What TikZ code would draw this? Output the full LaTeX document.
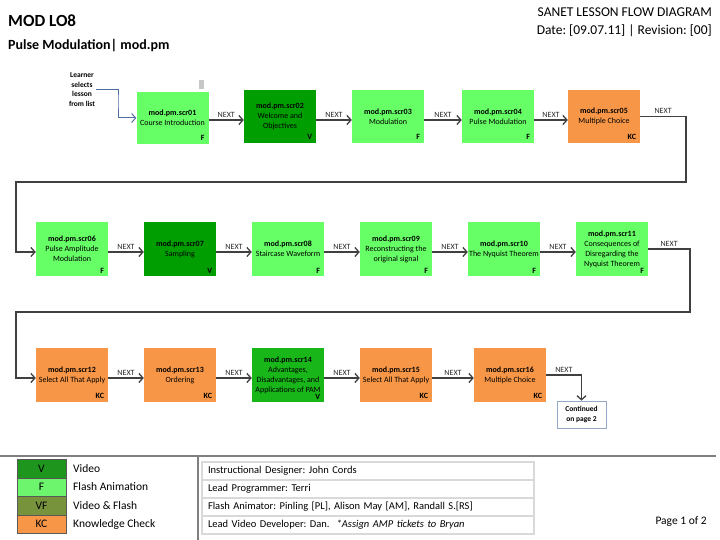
\documentclass[tikz,border=0pt]{standalone}
\usepackage{fontspec}
\setmainfont{Carlito}
\usetikzlibrary{arrows.meta,calc}
\definecolor{fgreen}{RGB}{102,255,102}
\definecolor{vgreen}{RGB}{0,158,0}
\definecolor{vgreenb}{RGB}{24,182,24}
\definecolor{kcorange}{RGB}{247,150,70}
\definecolor{vfolive}{RGB}{119,147,60}
\definecolor{conncol}{RGB}{64,64,64}
\definecolor{learncol}{RGB}{79,110,160}
\definecolor{legV}{RGB}{30,150,30}
\definecolor{legF}{RGB}{110,245,110}
\frenchspacing
\begin{document}
\begin{tikzpicture}[x=1pt,y=-1pt,
  scr/.style={minimum width=72pt, minimum height=54pt, inner sep=0pt, align=center,
    font=\fontsize{8}{10}\selectfont},
  typ/.style={label={[anchor=south east, inner sep=0pt, xshift=-4pt, yshift=3pt,
    font=\fontsize{8}{9}\selectfont\bfseries]south east:#1}},
  conn/.style={draw=conncol, line width=1.3pt, -{Straight Barb[length=4pt,width=9pt]}},
  lconn/.style={draw=learncol, line width=1pt, -{Straight Barb[length=4pt,width=9pt]}},
  nxt/.style={above, inner sep=2pt, font=\fontsize{8}{9}\selectfont, text=black!85},
  legbox/.style={draw=black!65, minimum width=49pt, minimum height=18.5pt, inner sep=0pt,
    font=\fontsize{11.5}{12}\selectfont},
  legtxt/.style={anchor=west, inner sep=0pt, font=\fontsize{11.5}{12}\selectfont},
  credit/.style={draw=black!15, line width=1.2pt, text width=320pt, inner xsep=6pt,
    minimum height=18pt, inner ysep=0pt, align=left, font=\fontsize{10.5}{12}\selectfont}
]
\useasboundingbox (0,0) rectangle (720,540);
\fill[white] (0,0) rectangle (720,540);

% header
\node[anchor=base west, inner sep=0pt, font=\fontsize{17}{20}\selectfont\bfseries] (title) at (8,27) {MOD LO8};
\node[anchor=base west, inner sep=0pt, font=\fontsize{14}{16}\selectfont\bfseries] (sub) at (8,50) {Pulse Modulation| mod.pm};
\node[anchor=base east, inner sep=0pt, font=\fontsize{13.5}{16}\selectfont] (h1) at (712,17) {SANET LESSON FLOW DIAGRAM};
\node[anchor=base east, inner sep=0pt, font=\fontsize{13.5}{16}\selectfont] (h2) at (712,35) {Date: [09.07.11] | Revision: [00]};

% learner
\node[align=center, inner sep=1pt, font=\fontsize{7.5}{9.5}\selectfont\bfseries] (learn) at (82,89.5) {Learner\\selects\\lesson\\from list};
\fill[black!22] (199,80) rectangle (204,89);

% row 1
\node[scr, minimum height=52pt, fill=fgreen, typ=F] (s01) at (172.5,118) {\textbf{mod.pm.scr01}\\Course Introduction};
\node[scr, minimum height=53pt, fill=vgreen, typ=V] (s02) at (280,116.5) {\textbf{mod.pm.scr02}\\Welcome and\\Objectives};
\node[scr, minimum height=53pt, fill=fgreen, typ=F] (s03) at (388,116.5) {\textbf{mod.pm.scr03}\\Modulation};
\node[scr, minimum height=53pt, fill=fgreen, typ=F] (s04) at (498,116.5) {\textbf{mod.pm.scr04}\\Pulse Modulation};
\node[scr, minimum height=53pt, fill=kcorange, typ=KC] (s05) at (604,116.5) {\textbf{mod.pm.scr05}\\Multiple Choice};

% row 2
\node[scr, fill=fgreen, typ=F] (s06) at (72,249) {\textbf{mod.pm.scr06}\\Pulse Amplitude\\Modulation};
\node[scr, fill=vgreen, typ=V] (s07) at (180,249) {\textbf{mod.pm.scr07}\\Sampling};
\node[scr, fill=fgreen, typ=F] (s08) at (288,249) {\textbf{mod.pm.scr08}\\Staircase Waveform};
\node[scr, fill=fgreen, typ=F] (s09) at (396,249) {\textbf{mod.pm.scr09}\\Reconstructing the\\original signal};
\node[scr, fill=fgreen, typ=F] (s10) at (504,249) {\textbf{mod.pm.scr10}\\The Nyquist Theorem};
\node[scr, fill=fgreen, typ=F] (s11) at (612,249) {\textbf{mod.pm.scr11}\\Consequences of\\Disregarding the\\Nyquist Theorem};

% row 3
\node[scr, fill=kcorange, typ=KC] (s12) at (72,375) {\textbf{mod.pm.scr12}\\Select All That Apply};
\node[scr, fill=kcorange, typ=KC] (s13) at (180,375) {\textbf{mod.pm.scr13}\\Ordering};
\node[scr, fill=vgreenb, typ=V] (s14) at (288,375) {\textbf{mod.pm.scr14}\\Advantages,\\Disadvantages, and\\Applications of PAM};
\node[scr, fill=kcorange, typ=KC] (s15) at (396,375) {\textbf{mod.pm.scr15}\\Select All That Apply};
\node[scr, fill=kcorange, typ=KC] (s16) at (510,375) {\textbf{mod.pm.scr16}\\Multiple Choice};

\node[draw=learncol!60, fill=white, line width=0.8pt, minimum width=49pt, minimum height=27pt,
  inner sep=0pt, align=center, font=\fontsize{7.5}{10}\selectfont\bfseries] (cont) at (581.5,414.5) {Continued\\on page 2};

% connectors
\coordinate (lb) at (118,100);
\draw[lconn] (learn.east) -| (lb) |- (s01.west);

\draw[conn] ([yshift=-2pt]s01.east) -- ([yshift=-2pt]s01.east -| s02.west) node[nxt, midway] {NEXT};
\draw[conn] ([yshift=-3.5pt]s02.east) -- ([yshift=-3.5pt]s02.east -| s03.west) node[nxt, midway] {NEXT};
\draw[conn] ([yshift=-3.5pt]s03.east) -- ([yshift=-3.5pt]s03.east -| s04.west) node[nxt, midway] {NEXT};
\draw[conn] ([yshift=-3.5pt]s04.east) -- ([yshift=-3.5pt]s04.east -| s05.west) node[nxt, midway] {NEXT};

\coordinate (r1a) at (686,182);
\coordinate (r1b) at (16,182);
\draw[conn] (s05.east) -- (s05.east -| r1a) node[nxt, midway] {NEXT} -- (r1a) -- (r1b) |- ([yshift=-3pt]s06.west);

\draw[conn] ([yshift=-3pt]s06.east) -- ([yshift=-3pt]s07.west) node[nxt, midway] {NEXT};
\draw[conn] ([yshift=-3pt]s07.east) -- ([yshift=-3pt]s08.west) node[nxt, midway] {NEXT};
\draw[conn] ([yshift=-3pt]s08.east) -- ([yshift=-3pt]s09.west) node[nxt, midway] {NEXT};
\draw[conn] ([yshift=-3pt]s09.east) -- ([yshift=-3pt]s10.west) node[nxt, midway] {NEXT};
\draw[conn] ([yshift=-3pt]s10.east) -- ([yshift=-3pt]s11.west) node[nxt, midway] {NEXT};

\coordinate (r2a) at (690,312);
\coordinate (r2b) at (16,312);
\draw[conn] (s11.east) -- (s11.east -| r2a) node[nxt, midway] {NEXT} -- (r2a) -- (r2b) |- ([yshift=-3pt]s12.west);

\draw[conn] ([yshift=-3pt]s12.east) -- ([yshift=-3pt]s13.west) node[nxt, midway] {NEXT};
\draw[conn] ([yshift=-3pt]s13.east) -- ([yshift=-3pt]s14.west) node[nxt, midway] {NEXT};
\draw[conn] ([yshift=-3pt]s14.east) -- ([yshift=-3pt]s15.west) node[nxt, midway] {NEXT};
\draw[conn] ([yshift=-3pt]s15.east) -- ([yshift=-3pt]s16.west) node[nxt, midway] {NEXT};
\draw[conn] (s16.east) -- (s16.east -| cont.north) node[nxt, midway] {NEXT} -- (cont.north);

% bottom separators
\draw[black!50, line width=1.5pt] (0,456) -- (716,456);
\draw[black!50, line width=1.2pt] (198,456) -- (198,540);

% legend
\node[legbox, fill=legV] (lv) at (41.5,468.5) {V};
\node[legbox, fill=legF] (lf) at (41.5,487) {F};
\node[legbox, fill=vfolive] (lvf) at (41.5,505.5) {VF};
\node[legbox, fill=kcorange] (lkc) at (41.5,524) {KC};
\node[legtxt] (tv) at (73,468.5) {Video};
\node[legtxt] (tf) at (73,487) {Flash Animation};
\node[legtxt] (tvf) at (73,505.5) {Video \& Flash};
\node[legtxt] (tkc) at (73,524) {Knowledge Check};

% credits
\node[credit] (c1) at (368,471) {Instructional Designer: John Cords};
\node[credit] (c2) at (368,489) {Lead Programmer: Terri};
\node[credit] (c3) at (368,507) {Flash Animator: Pinling [PL], Alison May [AM], Randall S.[RS]};
\node[credit] (c4) at (368,525) {Lead Video Developer: Dan.\ \ \textit{*Assign AMP tickets to Bryan}};

\node[anchor=east, inner sep=0pt, font=\fontsize{11.5}{12}\selectfont] (pg) at (707,522) {Page 1 of 2};
\end{tikzpicture}
\end{document}
